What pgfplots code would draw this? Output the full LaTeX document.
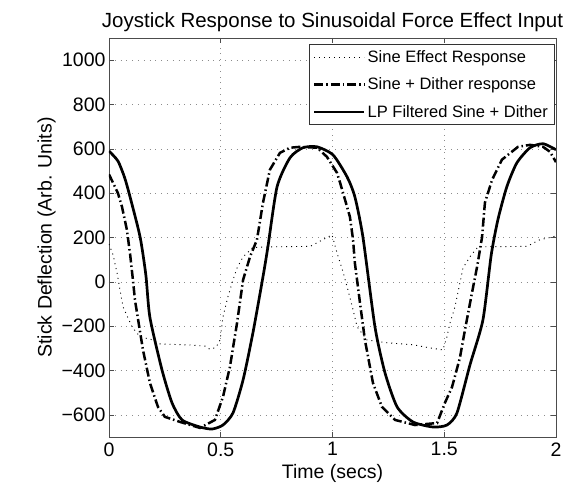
\documentclass[border=0pt]{standalone}
\usepackage{fontspec}
\setmainfont{Liberation Sans}
\usepackage{pgfplots}
\pgfplotsset{compat=1.18}
\begin{document}
\begin{tikzpicture}
\useasboundingbox (-109pt,-56pt) rectangle (470pt,437pt);
\begin{axis}[
  scale only axis,
  width=447pt, height=399pt,
  xmin=0, xmax=2, ymin=-700, ymax=1100,
  xtick={0,0.5,1,1.5,2},
  xticklabels={0,0.5,1,1.5,2},
  ytick={-600,-400,-200,0,200,400,600,800,1000},
  yticklabels={−600,−400,−200,0,200,400,600,800,1000},
  tick align=inside,
  major tick length=5pt,
  tick style={black!70, line width=0.6pt},
  axis line style={black!70, line width=0.8pt},
  grid=major,
  major grid style={black!45, line width=0.5pt, dash pattern=on 0.8pt off 5pt},
  tick label style={font=\fontsize{19.5}{22}\selectfont},
  xticklabel style={yshift=-2pt},
  title={Joystick Response to Sinusoidal Force Effect Input},
  title style={font=\fontsize{20.5}{24}\selectfont, yshift=-3pt},
  xlabel={Time (secs)},
  ylabel={Stick Deflection (Arb. Units)},
  label style={font=\fontsize{19.5}{22}\selectfont},
  xlabel style={yshift=-1pt},
  ylabel style={yshift=-1pt},
  legend style={at={(0.996,0.985)}, anchor=north east, draw=black!80, line width=0.6pt,
    font=\fontsize{16.5}{19}\selectfont, row sep=10pt, inner sep=4pt},
  legend cell align=left,
  legend image code/.code={\draw[#1] (0pt,0pt) -- (50pt,0pt);},
]
\addplot[black, line width=0.9pt, dash pattern=on 1pt off 4pt] coordinates {
(0,170) (0.018,122) (0.036,41) (0.049,-36) (0.063,-113) (0.103,-203) (0.139,-248)
(0.197,-262) (0.228,-280) (0.362,-285) (0.430,-290) (0.452,-305) (0.479,-295)
(0.497,-262) (0.51,-158) (0.532,-68) (0.555,9) (0.573,63) (0.6,113) (0.644,155)
(0.734,158) (0.9,160) (0.957,190) (0.998,212) (1.02,131) (1.047,45) (1.069,-36)
(1.092,-126) (1.11,-203) (1.154,-262) (1.244,-275) (1.36,-284) (1.436,-298)
(1.494,-307) (1.512,-248) (1.526,-185) (1.548,-113) (1.570,-5) (1.584,63)
(1.615,113) (1.651,158) (1.870,160) (1.928,190) (1.987,203) (2.0,208)
};
\addlegendentry{Sine Effect Response}
\addplot[black, line width=2.5pt, dash pattern=on 9pt off 3pt on 1.5pt off 3pt] coordinates {
(0,485) (0.04,400) (0.058,339) (0.08,235) (0.095,120) (0.108,0) (0.116,-81)
(0.152,-307) (0.183,-456) (0.219,-564) (0.25,-609) (0.318,-632) (0.407,-659)
(0.474,-623) (0.51,-519) (0.541,-384) (0.573,-185) (0.6,9) (0.631,113)
(0.662,190) (0.689,357) (0.72,506) (0.765,582) (0.81,605) (0.855,609)
(0.931,605) (0.975,564) (1.02,492) (1.034,447) (1.065,339) (1.078,293)
(1.092,190) (1.1,86) (1.123,-95) (1.145,-262) (1.181,-456) (1.221,-564)
(1.28,-623) (1.369,-646) (1.468,-637) (1.503,-546) (1.535,-474) (1.57,-343)
(1.593,-215) (1.624,-50) (1.647,68) (1.669,200) (1.682,357) (1.714,460)
(1.758,551) (1.83,609) (1.884,618) (1.942,609) (1.973,587) (2.0,540)
};
\addlegendentry{Sine + Dither response}
\addplot[black, line width=2.7pt, smooth, tension=0.4] coordinates {
(0,590) (0.04,545) (0.07,470) (0.094,384) (0.139,203) (0.165,30) (0.183,-160)
(0.237,-397) (0.282,-546) (0.327,-623) (0.407,-655) (0.461,-664) (0.51,-646)
(0.555,-591) (0.6,-442) (0.644,-230) (0.689,23) (0.711,158) (0.752,429)
(0.81,560) (0.868,605) (0.931,609) (1.002,573) (1.065,474) (1.1,384)
(1.136,203) (1.19,-203) (1.235,-411) (1.289,-564) (1.36,-632) (1.45,-655)
(1.512,-646) (1.557,-591) (1.615,-375) (1.673,-172) (1.71,120) (1.74,280)
(1.78,429) (1.825,537) (1.884,605) (1.942,623) (2.0,596)
};
\addlegendentry{LP Filtered Sine + Dither}
\end{axis}
\end{tikzpicture}
\end{document}
